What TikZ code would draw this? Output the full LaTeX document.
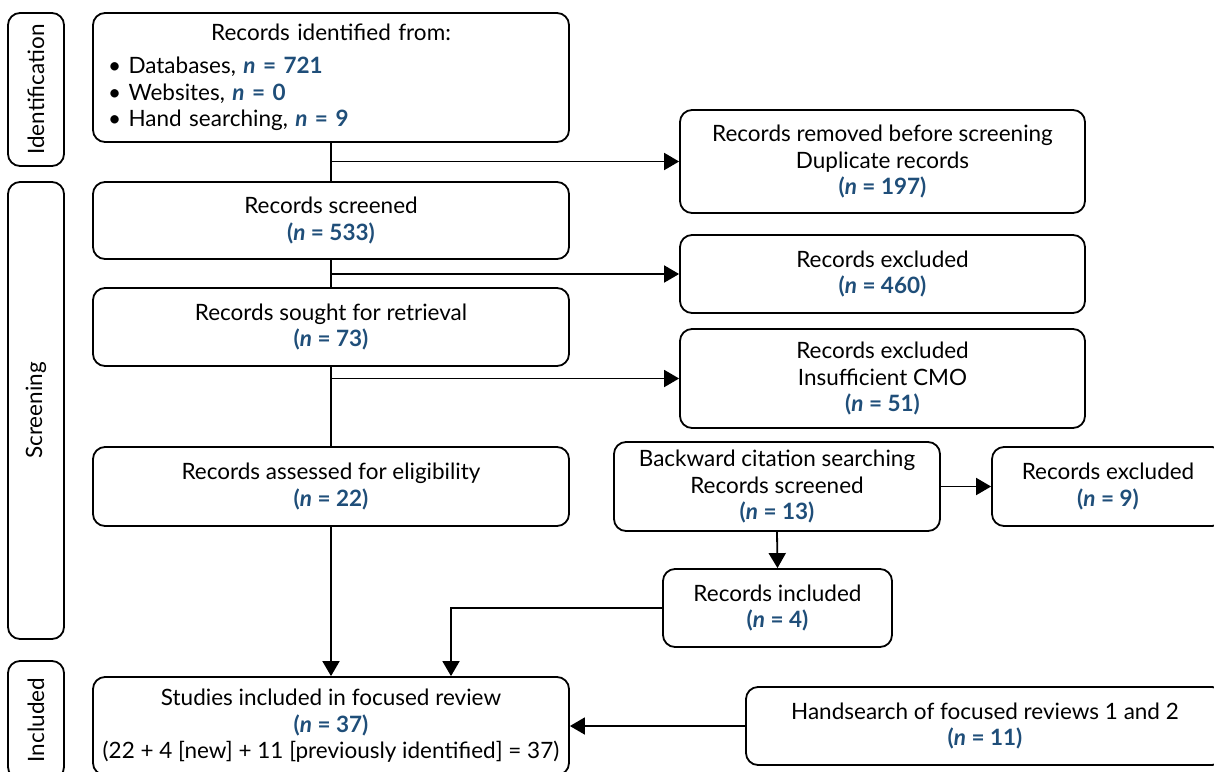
\documentclass[tikz,border=0pt]{standalone}
\usepackage{fontspec}
\setmainfont{Lato}
\usetikzlibrary{arrows.meta}
\definecolor{nblue}{HTML}{1F4E79}
\newcommand\nnum[1]{\textcolor{nblue}{\bfseries\textit{n} = #1}}
\newcommand\nval[1]{\textcolor{nblue}{\bfseries(\textit{n} = #1)}}
\tikzset{
  box/.style={draw, line width=1.8pt, rounded corners=12pt, align=center,
    inner sep=0pt, font=\fontsize{22.5}{26.5}\selectfont},
  side/.style={draw, line width=1.8pt, rounded corners=12pt, inner sep=0pt,
    minimum width=56pt},
  sidelabel/.style={rotate=90, font=\fontsize{22.5}{26}\selectfont},
  link/.style={line width=1.8pt},
  arr/.style={line width=1.8pt, -{Triangle[length=15pt,width=17pt]}},
}
\begin{document}
\begin{tikzpicture}[x=1pt, y=-1pt]
\useasboundingbox (0,0) rectangle (1214,771);
\clip (0,0) rectangle (1214,771);

% stage bars on the left
\node[side, minimum height=153pt] (sid) at (36,89.5) {};
\node[sidelabel] (lid) at (sid.center) {Identification};
\node[side, minimum height=457pt] (sscr) at (36,410.5) {};
\node[sidelabel] (lscr) at (sscr.center) {Screening};
\node[side, minimum height=118pt] (sinc) at (36,720) {};
\node[sidelabel] (linc) at (sinc.center) {Included};

% main column
\node[box, minimum width=476pt, minimum height=129pt, text width=446pt] (ident) at (331,77.5)
  {\centering Records identified from:\par\vspace{7pt}\raggedright
   \textbullet\ Databases, \nnum{721}\\
   \textbullet\ Websites, \nnum{0}\\
   \textbullet\ Hand searching, \nnum{9}\par};
\node[box, minimum width=476pt, minimum height=77pt] (scr) at (331,220.5)
  {Records screened\\ \nval{533}};
\node[box, minimum width=476pt, minimum height=78pt] (sought) at (331,327)
  {Records sought for retrieval\\ \nval{73}};
\node[box, minimum width=476pt, minimum height=79pt] (elig) at (331,486.5)
  {Records assessed for eligibility\\ \nval{22}};
\node[box, minimum width=476pt, minimum height=98pt] (incl) at (331,726)
  {Studies included in focused review\\ \nval{37}\\
   (22 + 4 [new] + 11 [previously identified] = 37)};

% exclusions
\node[box, minimum width=405pt, minimum height=103pt] (dup) at (882.5,161.5)
  {Records removed before screening\\ Duplicate records\\ \nval{197}};
\node[box, minimum width=405pt, minimum height=78pt] (exa) at (882.5,274)
  {Records excluded\\ \nval{460}};
\node[box, minimum width=405pt, minimum height=99pt] (exb) at (882.5,378.5)
  {Records excluded\\ Insufficient CMO\\ \nval{51}};

% backward citation searching
\node[box, minimum width=326pt, minimum height=89pt] (back) at (777,486.5)
  {Backward citation searching\\ Records screened\\ \nval{13}};
\node[box, minimum width=232pt, minimum height=79pt] (exc) at (1108,486.5)
  {Records excluded\\ \nval{9}};
\node[box, minimum width=229pt, minimum height=78pt] (newi) at (777.5,608)
  {Records included\\ \nval{4}};
\node[box, minimum width=478pt, minimum height=78pt] (hand) at (985,726)
  {Handsearch of focused reviews 1 and 2\\ \nval{11}};

% flow
\coordinate (j1) at (ident.south |- dup.west);
\coordinate (j2) at (scr.south |- exa.west);
\coordinate (j3) at (sought.south |- exb.west);
\draw[link] (ident.south) -- (scr.north);
\draw[arr] (j1) -- (dup.west);
\draw[link] (scr.south) -- (sought.north);
\draw[arr] (j2) -- (exa.west);
\draw[link] (sought.south) -- (elig.north);
\draw[arr] (j3) -- (exb.west);
\draw[arr] (elig.south) -- (incl.north);
\draw[arr] (back.east) -- (exc.west);
\draw[arr] (back.south) -- (newi.north);
\coordinate (k) at (451,608);
\draw[arr] (newi.west) -- (k) -- (k |- incl.north);
\draw[arr] (hand.west) -- (incl.east);
\end{tikzpicture}
\end{document}
